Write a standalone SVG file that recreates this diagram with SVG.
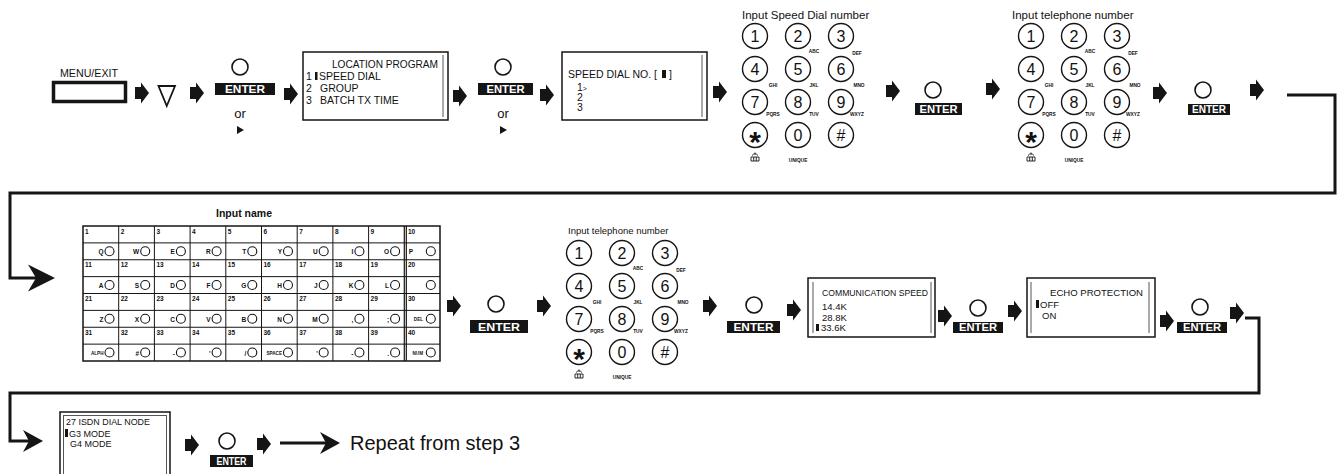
<svg xmlns="http://www.w3.org/2000/svg" xmlns:xlink="http://www.w3.org/1999/xlink" width="1340" height="474" viewBox="0 0 1340 474">
<style>
text{font-family:"Liberation Sans",Arial,sans-serif;fill:#111}
.lcd{font-size:10.5px}
.lcd2{font-size:9.5px}
.entr{fill:#151515}
.entt{font-weight:bold;font-size:10px;fill:#fff;text-anchor:middle}
.btn{fill:none;stroke:#151515;stroke-width:1.6}
.key{fill:#fff;stroke:#151515;stroke-width:1.4}
.dg{font-size:16px;text-anchor:middle}
.star{font-size:30px;font-weight:bold}
.sub{font-weight:bold;font-size:4.8px;text-anchor:middle}
.box{fill:#fff;stroke:#151515;stroke-width:1.5}
.inner{stroke:#555;stroke-width:1;fill:none}
.conn{fill:none;stroke:#151515;stroke-width:3}
.grid{fill:none;stroke:#151515;stroke-width:1}
.num{font-size:6.5px;font-weight:bold}
.kl{font-size:6.5px;font-weight:bold;text-anchor:end}
.kls{font-size:4.6px;font-weight:bold;text-anchor:end}
.kc{fill:#fff;stroke:#151515;stroke-width:1.1}
.cur{fill:#151515}
</style>
<defs>
<path id="ba" d="M0,-6 H6 V-10.5 L14,0 L6,10.5 V6 H0 Z" fill="#151515"/>
<marker id="ahb" viewBox="-28 -14 28 28" markerWidth="28" markerHeight="28" refX="-10" refY="0" markerUnits="userSpaceOnUse" orient="auto">
<path d="M0,0 L-27,-13.5 L-19,0 L-27,13.5 Z" fill="#151515"/>
</marker>
<marker id="ahs" viewBox="-21 -12 21 24" markerWidth="21" markerHeight="24" refX="-10" refY="0" markerUnits="userSpaceOnUse" orient="auto">
<path d="M0,0 L-20,-11 L-14,0 L-20,11 Z" fill="#151515"/>
</marker>
<g id="kp">
<g class="key">
<circle cx="0" cy="0" r="12.5"/><circle cx="43" cy="0" r="12.5"/><circle cx="86" cy="0" r="12.5"/>
<circle cx="0" cy="33" r="12.5"/><circle cx="43" cy="33" r="12.5"/><circle cx="86" cy="33" r="12.5"/>
<circle cx="0" cy="66" r="12.5"/><circle cx="43" cy="66" r="12.5"/><circle cx="86" cy="66" r="12.5"/>
<circle cx="0" cy="99" r="12.5"/><circle cx="43" cy="99" r="12.5"/><circle cx="86" cy="99" r="12.5"/>
</g>
<text class="dg" x="0" y="5.8">1</text><text class="dg" x="43" y="5.8">2</text><text class="dg" x="86" y="5.8">3</text>
<text class="dg" x="0" y="38.8">4</text><text class="dg" x="43" y="38.8">5</text><text class="dg" x="86" y="38.8">6</text>
<text class="dg" x="0" y="71.8">7</text><text class="dg" x="43" y="71.8">8</text><text class="dg" x="86" y="71.8">9</text>
<text class="dg star" x="0" y="116">*</text><text class="dg" x="43" y="104.8">0</text><text class="dg" x="86" y="104.8">#</text>
<text class="sub" x="59" y="17">ABC</text><text class="sub" x="102" y="19">DEF</text>
<text class="sub" x="18" y="51">GHI</text><text class="sub" x="59" y="51">JKL</text><text class="sub" x="104" y="51">MNO</text>
<text class="sub" x="18" y="80">PQRS</text><text class="sub" x="59" y="80">TUV</text><text class="sub" x="102" y="80">WXYZ</text>
<text class="sub" x="43" y="126">UNIQUE</text>
<path d="M-4,121 h8 v4 h-8 z M-1.3,121 v4 M1.3,121 v4 M-3,119.5 q3,-3.5 6,0 M0,116.5 v2" fill="none" stroke="#151515" stroke-width="0.9"/>
</g>
</defs>
<rect width="1340" height="474" fill="#fff"/>

<g id="connectors">
<use href="#ba" x="135" y="93"/>
<use href="#ba" x="190" y="93"/>
<use href="#ba" x="284" y="94"/>
<use href="#ba" x="453" y="96"/>
<use href="#ba" x="540" y="95"/>
<use href="#ba" x="713" y="92"/>
<use href="#ba" x="886" y="91"/>
<use href="#ba" x="986" y="89"/>
<use href="#ba" x="1153" y="93"/>
<use href="#ba" x="1250" y="90"/>
<use href="#ba" x="447" y="306"/>
<use href="#ba" x="537" y="306"/>
<use href="#ba" x="703" y="306"/>
<use href="#ba" x="787" y="310"/>
<use href="#ba" x="938" y="316"/>
<use href="#ba" x="1008" y="311"/>
<use href="#ba" x="1160" y="321"/>
<use href="#ba" x="1230" y="313"/>
<use href="#ba" x="185" y="445"/>
<use href="#ba" x="257" y="444"/>
<polyline class="conn" points="1287,95 1335,95 1335,193 10,193 10,278 45,278" marker-end="url(#ahb)"/>
<polyline class="conn" points="1245,318 1259,318 1259,393 10,393 10,441 33,441" marker-end="url(#ahs)"/>
<line class="conn" x1="280" y1="443" x2="330" y2="443" marker-end="url(#ahs)"/>
</g>

<g id="n-menu">
<text x="89" y="77" font-size="10.5" text-anchor="middle" textLength="58" lengthAdjust="spacingAndGlyphs">MENU/EXIT</text>
<rect x="53.5" y="82.5" width="72" height="19" fill="#fff" stroke="#151515" stroke-width="3.5"/>
</g>

<g id="n-down">
<polygon points="158.5,86 175,86 166.75,106" fill="none" stroke="#151515" stroke-width="1.8"/>
</g>

<g id="n-enter1">
<circle class="btn" cx="240" cy="67" r="8"/>
<rect class="entr" x="215" y="83" width="60" height="12"/>
<text class="entt" x="245" y="93" textLength="40" lengthAdjust="spacingAndGlyphs">ENTER</text>
<text x="240" y="118" font-size="13" text-anchor="middle">or</text>
<polygon points="237,126 244,130 237,134" fill="#151515"/>
</g>

<g id="n-location">
<rect class="box" x="303" y="52" width="145" height="68"/>
<line class="inner" x1="443" y1="55" x2="443" y2="117"/>
<text class="lcd" x="332" y="68" textLength="106" lengthAdjust="spacingAndGlyphs">LOCATION PROGRAM</text>
<text class="lcd" x="306" y="80">1</text><rect class="cur" x="315" y="72" width="2.5" height="8"/><text class="lcd" x="319" y="80">SPEED DIAL</text>
<text class="lcd" x="306" y="92">2</text><text class="lcd" x="320" y="92">GROUP</text>
<text class="lcd" x="306" y="104">3</text><text class="lcd" x="320" y="104">BATCH TX TIME</text>
</g>

<g id="n-enter2">
<circle class="btn" cx="503" cy="67" r="8"/>
<rect class="entr" x="478" y="83" width="55" height="12"/>
<text class="entt" x="505.5" y="93" textLength="38" lengthAdjust="spacingAndGlyphs">ENTER</text>
<text x="503" y="118" font-size="13" text-anchor="middle">or</text>
<polygon points="500,126 507,130 500,134" fill="#151515"/>
</g>

<g id="n-speeddial">
<rect class="box" x="562" y="52" width="145" height="68"/>
<line class="inner" x1="702" y1="55" x2="702" y2="117"/>
<text class="lcd" x="568" y="78">SPEED DIAL NO. [</text><rect class="cur" x="662" y="70" width="4" height="8"/><text class="lcd" x="669" y="78">]</text>
<text class="lcd" x="577" y="91">1<tspan font-size="7">&gt;</tspan></text>
<text class="lcd" x="577" y="101">2</text>
<text class="lcd" x="577" y="111">3</text>
</g>

<g id="n-keypad1">
<text x="742" y="18.5" font-size="11.5">Input Speed Dial number</text>
<use href="#kp" x="755" y="36"/>
</g>

<g id="n-enter3">
<circle class="btn" cx="933" cy="90" r="8"/>
<rect class="entr" x="915" y="103" width="47" height="12"/>
<text class="entt" x="938.5" y="113" textLength="38" lengthAdjust="spacingAndGlyphs">ENTER</text>
</g>

<g id="n-keypad2">
<text x="1012" y="18.5" font-size="11.5">Input telephone number</text>
<use href="#kp" x="1031" y="36"/>
</g>

<g id="n-enter4">
<circle class="btn" cx="1203" cy="90" r="8"/>
<rect class="entr" x="1188" y="104" width="42" height="11"/>
<text class="entt" x="1209" y="113" textLength="34" lengthAdjust="spacingAndGlyphs">ENTER</text>
</g>

<g id="n-inputname">
<text x="244" y="217" font-size="10.5" font-weight="bold" text-anchor="middle">Input name</text>
<rect x="83" y="226" width="357" height="135" fill="#fff" stroke="#151515" stroke-width="1.5"/>
<path class="grid" d="M118.7,226V361M154.4,226V361M190.1,226V361M225.8,226V361M261.5,226V361M297.2,226V361M332.9,226V361M368.6,226V361M83,242.875H440M83,259.75H440M83,276.625H440M83,293.5H440M83,310.375H440M83,327.25H440M83,344.125H440"/>
<path d="M404.3,226V361M406.3,226V361" fill="none" stroke="#151515" stroke-width="1.2"/>
<g class="num">
<text x="85" y="233.5">1</text><text x="120.7" y="233.5">2</text><text x="156.4" y="233.5">3</text><text x="192.1" y="233.5">4</text><text x="227.8" y="233.5">5</text><text x="263.5" y="233.5">6</text><text x="299.2" y="233.5">7</text><text x="334.9" y="233.5">8</text><text x="370.6" y="233.5">9</text><text x="408" y="233.5">10</text>
<text x="85" y="267.3">11</text><text x="120.7" y="267.3">12</text><text x="156.4" y="267.3">13</text><text x="192.1" y="267.3">14</text><text x="227.8" y="267.3">15</text><text x="263.5" y="267.3">16</text><text x="299.2" y="267.3">17</text><text x="334.9" y="267.3">18</text><text x="370.6" y="267.3">19</text><text x="408" y="267.3">20</text>
<text x="85" y="301">21</text><text x="120.7" y="301">22</text><text x="156.4" y="301">23</text><text x="192.1" y="301">24</text><text x="227.8" y="301">25</text><text x="263.5" y="301">26</text><text x="299.2" y="301">27</text><text x="334.9" y="301">28</text><text x="370.6" y="301">29</text><text x="408" y="301">30</text>
<text x="85" y="334.8">31</text><text x="120.7" y="334.8">32</text><text x="156.4" y="334.8">33</text><text x="192.1" y="334.8">34</text><text x="227.8" y="334.8">35</text><text x="263.5" y="334.8">36</text><text x="299.2" y="334.8">37</text><text x="334.9" y="334.8">38</text><text x="370.6" y="334.8">39</text><text x="408" y="334.8">40</text>
</g>
<g class="kl">
<text x="103.5" y="254.4">Q</text><text x="139.2" y="254.4">W</text><text x="174.9" y="254.4">E</text><text x="210.6" y="254.4">R</text><text x="246.3" y="254.4">T</text><text x="282" y="254.4">Y</text><text x="317.7" y="254.4">U</text><text x="353.4" y="254.4">I</text><text x="389.1" y="254.4">O</text><text x="413" y="254.4">P</text>
<text x="103.5" y="288.1">A</text><text x="139.2" y="288.1">S</text><text x="174.9" y="288.1">D</text><text x="210.6" y="288.1">F</text><text x="246.3" y="288.1">G</text><text x="282" y="288.1">H</text><text x="317.7" y="288.1">J</text><text x="353.4" y="288.1">K</text><text x="389.1" y="288.1">L</text>
<text x="103.5" y="321.9">Z</text><text x="139.2" y="321.9">X</text><text x="174.9" y="321.9">C</text><text x="210.6" y="321.9">V</text><text x="246.3" y="321.9">B</text><text x="282" y="321.9">N</text><text x="317.7" y="321.9">M</text><text x="353.4" y="321.9">,</text><text x="389.1" y="321.9">;</text>
<text x="139.2" y="355.6">#</text><text x="174.9" y="355.6">-</text><text x="210.6" y="355.6">'</text><text x="246.3" y="355.6">/</text><text x="317.7" y="355.6">'</text><text x="353.4" y="355.6">-</text><text x="389.1" y="355.6">.</text>
</g>
<g class="kls">
<text x="423" y="320.9">DEL</text>
<text x="103.5" y="354.6">ALPH</text><text x="282" y="354.6">SPACE</text><text x="423" y="354.6">NUM</text>
</g>
<g class="kc">
<circle cx="109.5" cy="251.3" r="4.5"/><circle cx="145.2" cy="251.3" r="4.5"/><circle cx="180.9" cy="251.3" r="4.5"/><circle cx="216.6" cy="251.3" r="4.5"/><circle cx="252.3" cy="251.3" r="4.5"/><circle cx="288" cy="251.3" r="4.5"/><circle cx="323.7" cy="251.3" r="4.5"/><circle cx="359.4" cy="251.3" r="4.5"/><circle cx="395.1" cy="251.3" r="4.5"/><circle cx="430.8" cy="251.3" r="4.5"/>
<circle cx="109.5" cy="285" r="4.5"/><circle cx="145.2" cy="285" r="4.5"/><circle cx="180.9" cy="285" r="4.5"/><circle cx="216.6" cy="285" r="4.5"/><circle cx="252.3" cy="285" r="4.5"/><circle cx="288" cy="285" r="4.5"/><circle cx="323.7" cy="285" r="4.5"/><circle cx="359.4" cy="285" r="4.5"/><circle cx="395.1" cy="285" r="4.5"/><circle cx="430.8" cy="285" r="4.5"/>
<circle cx="109.5" cy="318.8" r="4.5"/><circle cx="145.2" cy="318.8" r="4.5"/><circle cx="180.9" cy="318.8" r="4.5"/><circle cx="216.6" cy="318.8" r="4.5"/><circle cx="252.3" cy="318.8" r="4.5"/><circle cx="288" cy="318.8" r="4.5"/><circle cx="323.7" cy="318.8" r="4.5"/><circle cx="359.4" cy="318.8" r="4.5"/><circle cx="395.1" cy="318.8" r="4.5"/><circle cx="430.8" cy="318.8" r="4.5"/>
<circle cx="109.5" cy="352.5" r="4.5"/><circle cx="145.2" cy="352.5" r="4.5"/><circle cx="180.9" cy="352.5" r="4.5"/><circle cx="216.6" cy="352.5" r="4.5"/><circle cx="252.3" cy="352.5" r="4.5"/><circle cx="288" cy="352.5" r="4.5"/><circle cx="323.7" cy="352.5" r="4.5"/><circle cx="359.4" cy="352.5" r="4.5"/><circle cx="395.1" cy="352.5" r="4.5"/><circle cx="430.8" cy="352.5" r="4.5"/>
</g>
</g>

<g id="n-enter5">
<circle class="btn" cx="496" cy="304" r="8"/>
<rect class="entr" x="470" y="320" width="58" height="13"/>
<text class="entt" x="499" y="330.5" textLength="42" lengthAdjust="spacingAndGlyphs">ENTER</text>
</g>

<g id="n-keypad3">
<text x="568" y="234" font-size="9.5">Input telephone number</text>
<use href="#kp" x="579" y="253"/>
</g>

<g id="n-enter6">
<circle class="btn" cx="754" cy="305" r="8"/>
<rect class="entr" x="727" y="321" width="53" height="12"/>
<text class="entt" x="753.5" y="331" textLength="40" lengthAdjust="spacingAndGlyphs">ENTER</text>
</g>

<g id="n-commspeed">
<rect class="box" x="808" y="278" width="127" height="59"/>
<line class="inner" x1="813" y1="282" x2="813" y2="333"/>
<line class="inner" x1="931" y1="282" x2="931" y2="333"/>
<text class="lcd2" x="822" y="296" textLength="106" lengthAdjust="spacingAndGlyphs">COMMUNICATION SPEED</text>
<text class="lcd2" x="822" y="310">14.4K</text>
<text class="lcd2" x="822" y="321">28.8K</text>
<rect class="cur" x="816" y="324" width="3" height="7"/><text class="lcd2" x="821" y="331">33.6K</text>
</g>

<g id="n-enter7">
<circle class="btn" cx="978" cy="308" r="8"/>
<rect class="entr" x="953" y="322" width="50" height="11"/>
<text class="entt" x="978" y="331" textLength="38" lengthAdjust="spacingAndGlyphs">ENTER</text>
</g>

<g id="n-echo">
<rect class="box" x="1027" y="278" width="128" height="59"/>
<line class="inner" x1="1031" y1="282" x2="1031" y2="333"/>
<line class="inner" x1="1149" y1="282" x2="1149" y2="333"/>
<text class="lcd2" x="1050" y="296" textLength="93" lengthAdjust="spacingAndGlyphs">ECHO PROTECTION</text>
<rect class="cur" x="1036" y="300" width="3" height="8"/><text class="lcd2" x="1040" y="308">OFF</text>
<text class="lcd2" x="1042" y="319">ON</text>
</g>

<g id="n-enter8">
<circle class="btn" cx="1200" cy="307" r="8"/>
<rect class="entr" x="1177" y="322" width="50" height="11"/>
<text class="entt" x="1202" y="331" textLength="38" lengthAdjust="spacingAndGlyphs">ENTER</text>
</g>

<g id="n-isdn">
<rect class="box" x="60" y="412" width="110" height="70"/>
<rect class="inner" x="63.5" y="415.5" width="103" height="70"/>
<text x="66" y="425" font-size="9" textLength="84" lengthAdjust="spacingAndGlyphs">27  ISDN DIAL NODE</text>
<rect class="cur" x="65" y="429" width="3" height="8"/><text x="69" y="437" font-size="9">G3  MODE</text>
<text x="70" y="447" font-size="9">G4  MODE</text>
</g>

<g id="n-enter9">
<circle class="btn" cx="227" cy="441" r="8"/>
<rect class="entr" x="210" y="455" width="43" height="12"/>
<text class="entt" x="231.5" y="465" textLength="30" lengthAdjust="spacingAndGlyphs">ENTER</text>
</g>

<g id="n-repeat">
<text x="350" y="450" font-size="20">Repeat from step 3</text>
</g>
</svg>
